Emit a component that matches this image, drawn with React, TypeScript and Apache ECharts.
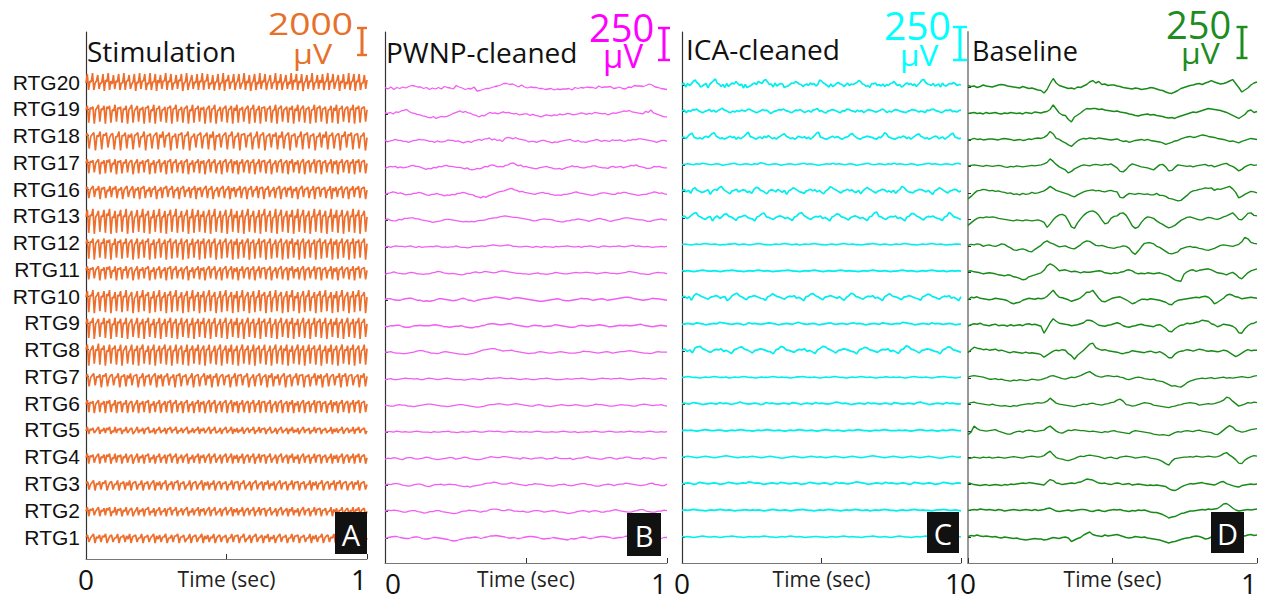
import React, { useEffect, useRef } from "react";
import * as echarts from "echarts";

// ---------------- DATA ----------------
const channels = [
  "RTG20", "RTG19", "RTG18", "RTG17", "RTG16", "RTG13", "RTG12", "RTG11", "RTG10",
  "RTG9", "RTG8", "RTG7", "RTG6", "RTG5", "RTG4", "RTG3", "RTG2", "RTG1",
];
const timeTicks = [0, 0.5, 1];
const timeLabels = [0, 1];
const panelTitles = ["Stimulation", "PWNP-cleaned", "ICA-cleaned", "Baseline"];
const scaleBarValues = ["2000", "250", "250", "250"];
const panelLetters = ["A", "B", "C", "D"];
const channelSpacingUv = [2000, 250, 250, 250];
const levelStepUv = [74.7, 4.72, 4.72, 4.72];

// Each trace: evenly spaced samples over 0..1 s, one character per sample.
// Level = index in LEVELS minus 18 ('0' = -18, 'i' = 0, 'z' = +17); spaces are ignored.
const LEVELS = "0123456789abcdefghijklmnopqrstuvwxyz";

const stimulationTraces = [
  "hqajirahjpbhhq9kirajgpbjiqahhrajjpbgiq9ihrbjjqahgraiiq9khpbjjrajiqahhpbkjq9hiragkpbihqajirajjqbhgpaiiqahhr9kjpbiiqahjqbgirajhp9hjqaigrbjiqahkpbhirajhqahjpbigrakiqajhq9hjpbjirahipbkhqaijrajiqbhkp9jhqbigraijq9jiqahhpbk",
  "hl4jik3hjm5ihl3kil4hgm5jik4ihl3hjm4gil5ihk3jjl4hgm3iil5hhk4jjl3iim5hhk4ijl3hgm4iil5jhk3hjl4iim3ghk5ijl4hil3jgm4ihk5hjl3iim4hhl3jjk5iil4ghm3ijl5hik4jhl3igm5hjl4iik3hhm4jjl5iik3hhl4jgm3iil5hjk4ihm3jil4ijk5h",
  "ik5hjl3ihm4jil6gjk4hhm3iil5jgk4ijl6hhm3iik5hjl4jgm6iil3hhk5jjl4iim3ghk6ijl5hil4jgm3ihk6hjl4iim5hhl3jjk6iil4ghm5ijl3hik6jhl4igm5hjl3iik6hhm4jjl5iik3hhl6jgm4iil5hjk3ihm6jil4ijk5hil3g",
  "hl7jik8hjl6ihk7kil8hgl6jik7ihl8hjk6gil7ihk8jjl6hgk7iil8hhk6jjl7iil8hhk7ijl6hgk8iil7jhk6hjl8iil7ghk6ijl8hil7jgk6ihl8hjk7iil6hhl8jjk7iil6ghk8ijl7hik6jhl8igk7hjl6iik8hhl7jjk6iik8hhl7jgk6iil8hjk7ihl6jil8ijk7h",
  "ik9hjlaihl8jik9hglajil9ihk8hjlagil9ihk8jjl9hgkaiil8hhk9jjlaiil9hhk8ijlahgk9iil8jhkahjl9iil8ghkaijl9hil8jgkaihl9hjk8iilahhl9jjk8iilaghk9ijl8hikajhl9igk8hjlaiik9hhl8jjkaiik9hhl8jgkaiil9hjk8ihlajil9ijk8h",
  "ho1jip0hjn2iho1kip0hgn1jio2ihp0hjn1gio2ihp1jjn0hgo2iip1hhn0jjo2iip1hhn2ijo0hgp1iio2jhn1hjo0iip2ghn1ijo0hip2jgn1iho0hjp2iin1hho0jjp2iin1ghp0ijo2hin1jho0igp2hjo1iin0hhp2jjo1iin0hhp2jgo1iio0hjn2ihp1jio0ijn2h",
  "hl2jim1hjl3ihm2kil1hgm3jil2ihm3hjl1gim2ihl3jjm1hgl2iim3hhl1jjm2iil3hhm1ijl2hgm3iil1jhm2hjl3iim1ghl2ijm3hil1jgm2ihl3hjm1iil2hhm3jjl1iim2ghl3ijm1hil2jhm3igl1hjm2iil3hhl1jjm2iil3hhm1jgl2iim3hjl1ihm2jil3ijm1h",
  "hl8jik9hjl7ihk8kil9hgl7jik8ihl9hjk7gil8ihk9jjl7hgk8iil9hhk7jjl8iil9hhk8ijl7hgk9iil8jhk7hjl9iil8ghk7ijl9hil8jgk7ihl9hjk8iil7hhl9jjk8iil7ghk9ijl8hik7jhl9igk8hjl7iik9hhl8jjk7iik9hhl8jgk7iil9hjk8ihl7jil9ijk8h",
  "hn2jio1hjm3ihn2kio1hgm3jin2iho3hjm1gin2iho3jjm1hgn2iio3hhm1jjn2iio3hhm1ijn2hgo3iim1jhn2hjo3iim1ghn2ijo3him1jgn2iho3hjm1iin2hho3jjm1iin2gho3ijm1hin2jho3igm1hjn2iio3hhm1jjn2iio3hhm1jgn2iio3hjm1ihn2jio3ijm1h",
  "hm3jin2hjm4ihn3kim2hgn4jim3ihn2hjm4gin3ihm2jjn4hgm3iin2hhm4jjn3iim2hhn4ijm3hgn2iim4jhn3hjm2iin4ghm3ijn2him4jgn3ihm2hjn4iim3hhn2jjm4iin3ghm2ijn4him3jhn2igm4hjn3iim2hhn4jjm3iin2hhm4jgn3iim2hjn4ihm3jin2ijm4h",
  "in2hjm4iho3jim2hgn4jjm3ihn2hjm4gin3ihm2jjn4hgm3iin2hhm4jjn3iim2hhn4ijm3hgn2iim4jhn3hjm2iin4ghm3ijn2him4jgn3ihm2hjn4iim3hhn2jjm4iin3ghm2ijn4him3jhn2igm4hjn3iim2hhn4jjm3iin2hhm4jgn3iim2hjn4ihm3jin2ijm4hin3j",
  "ik8hjl9ihk7jil8gjk9hhl7iik8jgl9ijk7hhl8iik9hjl7jgk8iil9hhk7jjl8iik9ghl7ijk8hil9jgk7ihl8hjk9iik7hhl8jjk9iil7ghk8ijl9hik7jhl8igk9hjl7iik8hhl9jjk7iik8hhl9jgk7iil8hjk9ihl7jil8ijk9hik7jhl8i",
  "hl9jik8hjl9ihk8kil9hgl8jik9ihl8hjk9gil8ihk9jjl8hgk9iil8hhk9jjl8iil9hhk8ijl9hgk8iil9jhk8hjl9iil8ghk9ijl8hil9jgk8ihl9hjk8iil9hhl8jjk9iil8ghk9ijl8hik9jhl8igk9hjl8iik9hhl8jjk9iik8hhl9jgk8iil9hjk8ihl9jil8ijk9h",
  "hlejikfhjleihkfkilehglfjikeihlfhjkegilfihkejjlfhgkeiilfhhkejjlfiilehhkfijlehgkfiilejhkfhjleiilfghkeijlfhilejgkfihlehjkfiilehhlfjjkeiilfghkeijlfhikejhlfigkehjlfiikehhlfjjkeiikfhhlejgkfiilehjkfihlejilfijkeh",
  "hlbjikchjlbihkckilbhglcjikbihlchjkbgilcihkbjjlchgkbiilchhkbjjlciilbhhkcijlbhgkciilbjhkchjlbiilcghkbijlchilbjgkcihlbhjkciilbhhlcjjkbiilcghkbijlchikbjhlcigkbhjlciikbhhlcjjkbiikchhlbjgkciilbhjkcihlbjilcijkbh",
  "ikchjlbihkcjilbgjkchhlbiikcjglbijkchhlbiikchjlbjgkciilbhhkcjjlbiikcghlbijkchilbjgkcihlbhjkciikbhhlcjjkbiilcghkbijlchikbjhlcigkbhjlciikbhhlcjjkbiikchhlbjgkciilbhjkcihlbjilcijkbhikcjhlbijkch",
  "hlcjikdhjlcihkdkilchgldjikcihldhjkcgildihkcjjldhgkciildhhkcjjldiilchhkdijlchgkdiilcjhkdhjlciildghkcijldhilcjgkdihlchjkdiilchhldjjkciildghkcijldhikcjhldigkchjldiikchhldjjkciikdhhlcjgkdiilchjkdihlcjildijkch",
  "ikdhjlcihkdjilcgjkdhhlciikdjglcijkdhhlciikdhjlcjgkdiilchhkdjjlciikdghlcijkdhilcjgkdihlchjkdiikchhldjjkciildghkcijldhikcjhldigkchjldiikchhldjjkciikdhhlcjgkdiilchjkdihlcjildijkchikdjhlcijkdh",
];

const pwnpTraces = [
  "jgkfjhkilnmkkhjfigjgljignkifhgkcdfhhjlmorrpqnkokikjjhhfghegfgghejhjikjjhmjkklhikhgkjnmmlnqokjhgf",
  "lkmjnmpqsolkihfecbeacedegjlnpmolkhgdgfjmkljlnlmkjkhijjgigfdfhgfhgjhikjhijlkikjmlkjkhjlkmnpoqnmlkjomrljhfdd",
  "kgijljjhhfhjjlkkjhhfigghkjjhigeghfijljmmokmjkhnpompmlkjghhfhjjhgegfhijklihjggfhijljhjihkjjkihkjlkmmlkjihfhjjh",
  "gikjkhjhijlmkkigegfihkjlmkkjiihfhedegfhkjmnljkjmnqrolnjkihgfhijkihffgegijljkihhjjlljihhgjkijkhjkmlnkjigghkjkihh",
  "hjkmljkighhjjlkigfhhjhgegfhgjjlkihgdcadbegikmnoqstqpmnlkjihjkljjhgfgfhhijlmkjihgfghjkkjihhkjlljihgfghhjkmljkih",
  "jlihhkjmmnnlljihgefghjkkjihgfgfgfhiijlmnnpqrqpoonmlkjhhjklkkjhgffhhjjlkjigijlmkjhgijkmnnmlkjjiggijkljj",
  "ijhjkjjijkihjhiijikjhihiikihhghjjjkjklmlkklmljjiijjihjihjiihjijjkjiijhjjkjihjkjijjkjijkljkjijihiijij",
  "gijljihhjkjhhghhjkmljihihgfgiikljkmlkjkmnmlkjiihhghijhhghikjihhijkjjkkjjhijkjiihijkmlkjhhggijkjjh",
  "jkkihhjklljhhfgfgikkjihghjlkhhfhikklmonmlkjlmmlkjihgffghijkjhgghijlkkjhijkjhijklmnnmkjihijlkkjih",
  "ihjjkkhgghjjkjjjklkjhhghiijhgffhhjkmnnmllmnnlkjihhjkjjhiijlkjihgghjkjijjklkjhhijkjkjjklmkjihijkji",
  "jjkihhgghijlmmkjhhghjkjihgffefghjlnopqqonlmmnlkjihghhjkjihhijkjihhhijlkkjihijkjhijkklmlkjihhghjkjjj",
  "hijhhijkjjijhhjkjihijkjihhhghijihhjkjkklkjjkjihijihhijjkjihhhijiijjkjihhijkjjijjkjihhijjkjjiijkji",
  "jihhjkjjhhghijkllkjihhghijkkjihgffghjkklmlkjklmlkjihhjkjhhghijkjiijkjihhijlkkjihhijkjjihhjklkjijjkih",
  "ijjikjijiijkjiiihjiijjkiihijiijkjiijkkjkjiijkjijijiijkjiiijiijkjiijhiijijkjiijkjiijijkjijiijkjiijij",
  "hjikjhgjkkihijlkihghijkkhijlkihgghjkmlkkmmlkjjhkjihjjkjhiiljiiijgijjlmjjihhjkkihjjlljiihkjjhhjkkj",
  "ikjllkihghjkkigfhjjkijkjjhgfgeghijlmmonlkklnlkjihjjlkkjhhghjjkihhjklljjhggijkjhjkkmlkjihijlmjjhhk",
  "jlklkjhhjkkihfgiikkihgfefhjjlkkihjjmnnmkkmljjijhhjkkjhijkjhhgefgijkjhjkjhhjjlmkjihhjkmmjihhjjlk",
  "hjklljihhjkkigghjjihgfdcdfgiijkjhjkmmnmlkiijhhjkllkjhghhjihgfehghjkjhhjkllkjhijjlmmkjihijkjhhjj",
];

const icaTraces = [
  "jmelhkpsnkegjlcknrulkfjdlfjmkplhkcjdfhkmjpnlrtojkemgjlkdfgjmlpnkjfikhmjlgjsqmkhekfhlnkjfimhkjlnrpkjfhdlkmhjgkfjhlmpkhjegkmjlhkfjnstnkjhlgikemhgjlknkhji",
  "jlgkimlnjhgjkmilhkmplkhgjhkilkjmnkighjmkliehjkmlnkjhgjlkmjgikhlmojkhfjkmljhgkjnmkjhlikgjmlkihjlnkgjhkmljihgjkmlkhjiglkmnkjhgjlkmijhkl",
  "jkhmqskihjgkmjnrtmkhjgikmjlgkhjmqulkigjkhmjnkhjgkmprmkhjgimkjlhkgjnsukjhgikmjlkhgjkmqrmjhgjkmlkjhgkjntqkjhgikjmlhkgjmprmkhjgikmlhjkgjmqskjhi",
  "ijkjikjlkjijkjhijkljijkjikjmljijkjhijkjijkljkjihijkjljkjijkjhijkljijkjikjljkjijkjhijkljkjijkjiklj",
  "jmhkenpkighjlcjmkpsmjgdjkmhjlkgiemqpkjgdjlkhmjgkcjlpnkhgejkmjlhkgdjmrpmkhfjkmjlhgkdjnqmkhfjkmlhjgkejmspkhgfjkmljhkgcjlpnkhfjkmlhj",
  "kmhjnrtmkhfjlcjmhkpqlkhdjkmnjhgckmqskjhfjlmkhjgdkmrtnkhfjlkmhjgckmqpkjhejlmkhjgdkmsulkhfjlkmhjgckmrqmkhejlkmjhgdkmtpkjhf",
  "ijihijijkjijihiijjkiijihijkjiihijijkjiijhijijkjiihijiijkjijiihijjkjiijihijijkjiihijijkjijihiijji",
  "jijihijkjiijihijjkjiihijijkjijihiijjkjiihijijkjihijiijkjijiihijijkjiijihiijkjijihijijkjiijhijiji",
  "jlhkdmqoljhfjkmlhjkcgmprmkhejkmljhgdkmqnkjhfjlkmhjgcklpqmkhejkmljhkgdjmrpkjhfjlkmhjgcknqmkjhejkmljhgdkmpokjhfjlkmhjgck",
  "ijkjilkjhijkjmlkjijkjhiljkjijklkjhijkjikmkjijkjhijkljijkjikljkjhijkjilkjijkjmlkjhijkjiljkjijkjhij",
  "jmhkeoqrmkhfjlkmhjgdkmpqlkhejkmljhgckmrpkjhfjlkmhjgdknrqmkhejkmljhgckmpokjhfjlkmhjgdkmsqlkhejkmljhgckmqpkjhf",
  "ijkjiihijijkjiijhijijkjiihijiijkjijiihijjkjiijihijijkjiihijijkjijihiijjijijihijkjiijihijjkjiihij",
  "jkijlkjhijkjiljkjhjkmkjijkjhiljkjijkjilkjhjkjiljkjijkmljkjhijkjiljkjijkjhlkjijkjilmkjhijkjiljkjij",
  "ijijihijkjiijjihijijkjiihijijkjiijihijijkjiijihijkjiijihijijkjiihijijkjiiijijihijkjiijihijijkjii",
  "ijkjihijkjihijklkjihijijkjihijkjihghijkjihijkjijihijkjihijkjihijklkjihijkjihijkjihijkjihghijkjij",
  "ijkjhilkjijkjhijlkjijkjmljkjhijkjilkjijkjhijlkjijkjhiljkjijkmlkjhijkjiljkjijkjhilkjijkjhijlkjijkj",
  "ijijkjiihijijkjijihiijjijijihijkjiijihijjkjiihijijkjiihijijkjiijhijijkjiihijiijkjijiihijjkjiijih",
  "jijihijkjiijihijjkjiihijijijkjiihijijkjijihiijjiihijiijkjijiihijjkjiijihijkjiihijijkjiijhijijkji",
];

const baselineTraces = [
  "ljkhjmkj ikmnmkji hgjhfgec b6dpzqlj hfgeihkn svqtnolm mkjhgfeg fdefhgec b8658bfh jlmopnqs vsqoprux ph8cgmqs",
  "ijkijhki jkihjikj ijhkjilk jlmqzrjf e61bfjos rssqrpon mnlkjhge dfghfged ca9a8bdf hjlkmoqs rqpomkhe b8cgnpkm",
  "ijljkijk kjiklkjh ijhikjlm lnrzuljf c85bgjlk mlkmlkji jkhfgdfh ijhjhgfe c9bdghkm opnoqsrp onlkjhfg ecfhjlkj",
  "jklkjikj ijkjhgih jihijkjk lnqxsmhe b58dgjlk jlmlkmln jf87cjnl jhgfdbgl mh9aglkj ijhjklmj khjlnoki e9chkmkl",
  "6bhmnpom nlmkjhif gehfgjhi kmqvrnlj hfcaehkm nomnlkmn lk98dhgf hgfgeehd db764238 djmnpqsr snqprtvq j8bfilki",
  "6bgkmlnm nmkjihgf hgfhgfgh fc29hnrs pf30bjqv yzwqh9bk opuvqg50 3cjnmkfb 84136bgj mnljhhkm ljiknpsv pihnuvqp",
  "jlkmlhjk ihjmlhea 9bca76bf jpsomjgh ifdcgkps rnjijhfe dfgihd51 8gnoomhf b73246ce ghffdca9 bdgjkjih jlqzwpnm",
  "kljihfgh gfdcbdc9 86349bdf hmvzwrlm nljkjhji ijklkhgf hgijmnlh fgfhgfgh fdb7310e jmnkmnop nkhgfdgi e85bhlnp",
  "glkmjihg hjihgea8 abfhjihj ijntzrlk igdfhkpv vzrjdcfi klmjgc8a ehhgihgf db76cfgh ijklkmnl g8bfjprp mlijklkj",
  "gjlkmjih jkhiigjh ijhkljki g2cnvqml kjhijlns sqmihgij lnlhfegh jkihgfij gc65bfij mlmopsrq ljfhkjig c32bhlmp",
  "gmrpomnl mnkljhgi hgfhfgfe c7bfjlkm lea3bglr xzqnlmkj ihfeghkj ihgijhgi fb66dhjk mljlnmkj kjijlkgc 8bfjmkll",
  "kmnmlkig ghfgedce dfedegfe fhjmnljh gikjlnqt vrnlkmnm lmkjgfhj kjhgfgdc b8523104 9ceghihi jhijkiji jklkjkmn",
  "kmnlkjih jhgfgfeg fhijkjlm lmpvqlji hgfeghji kljihjkm nrtpihfg ikmlkhgf edcefhik lmlkhijk jkmorxvp kfhjmlnm",
  "bgsnkjij kligeccf higjkjhi jkpsnife hkjlkjji hihgfhgi jhgfedhj ihgfecba ba9cfhgi jihjkihg fcbfkptq kighjlmn",
  "ghjihjij hijihijk jihjklkj kmrvoigf dcegjlkm nmlkigij hgjklkjh ijkjhgfd a63bghij jkjlkjkl kjkmqsnj e76dhkml",
  "kjhgfghf ghgfhgih ijkjlkji hgmrpkjh ijkjlmps rqnkjkih jkjhijgh ihgfgfgf ed9658cf hjijklji hgjmnjhf dcfghihi",
  "ijkjlkjk jikjhijk jijkjiki jkmnkhgh ijhijkkj hgijhgij kjkihgih jijhfeec a73569cd fhhijkjl klmqvwsn jhijkjkl",
  "jlkmkjkj ijhgihgf gedcdefe ecdfhgfh ig9cfhmp snlkjmkl mnljhghj ihigfedc a8689bdf ghjkjhef ijkmlkji jklkmnlm",
];

// ---------------- LAYOUT / STYLE ----------------
const FONT = "Open Sans";
const PANELS = [
  { left: 86, right: 367, top: 32, bottom: 559, firstY: 82, lastY: 537, line: "#EE6F2D", lineWidth: 1.7, text: "#E5712B", axis: "#333", axisWidth: 1.2, minAlign: "center", nameGap: 9 },
  { left: 385, right: 667, top: 32, bottom: 563, firstY: 88, lastY: 538, line: "#F25EF2", lineWidth: 1.3, text: "#FF00FF", axis: "#333", axisWidth: 1.2, minAlign: "left", nameGap: 5 },
  { left: 682, right: 961, top: 32, bottom: 563, firstY: 85, lastY: 537, line: "#00EEEE", lineWidth: 1.7, text: "#00FFFF", axis: "#333", axisWidth: 1.2, minAlign: "center", nameGap: 5 },
  { left: 968, right: 1257, top: 32, bottom: 563, firstY: 87, lastY: 537, line: "#178A17", lineWidth: 1.4, text: "#1E8C1E", axis: "#999", axisWidth: 2, minAlign: "center", nameGap: 5 },
];
const TITLE_POS = [[87, 51, 28], [386, 52, 28], [686, 49, 28], [972, 50, 27]];
const SCALE_NUM = [[268, 23, 31, 1.2], [589, 27, 38, 1.0], [884, 24, 39, 1.0], [1166, 24, 38, 1.0]];
const SCALE_UNIT = [[293, 53, 28, 1.15], [603, 55, 33, 1.0], [900, 54, 30, 1.05], [1181, 53, 29, 1.1]];
const SCALE_BAR = [[362, 28, 55, 5], [664, 28, 60, 6], [960, 27, 60, 7], [1242, 27, 58, 5.5]];
const LETTER_BOX = [[335, 512, 32, 42], [627, 513, 34, 43], [927, 512, 32, 41], [1211, 512, 33, 41]];

function decode(s: string, base: number, step: number): number[][] {
  const chars = Array.from(s).filter((c) => LEVELS.indexOf(c) >= 0);
  const n = chars.length;
  return chars.map((c, k) => [k / (n - 1), base + (LEVELS.indexOf(c) - 18) * step]);
}

function buildOption() {
  const nCh = channels.length;
  const traceSets = [stimulationTraces, pwnpTraces, icaTraces, baselineTraces];
  const grid: any[] = [];
  const xAxis: any[] = [];
  const yAxis: any[] = [];
  const series: any[] = [];
  const graphic: any[] = [];

  PANELS.forEach((L, p) => {
    const S = channelSpacingUv[p];
    const pxPerCh = (L.lastY - L.firstY) / (nCh - 1);
    const uvPerPx = S / pxPerCh;
    const positions = channels.map((_, i) => (nCh - 1 - i) * S);
    grid.push({
      left: L.left, top: L.top, width: L.right - L.left, height: L.bottom - L.top,
      containLabel: false, outerBoundsMode: "none",
    });
    yAxis.push({
      type: "value", gridIndex: p,
      min: -(L.bottom - L.lastY) * uvPerPx,
      max: (nCh - 1) * S + (L.firstY - L.top) * uvPerPx,
      axisLine: { show: true, onZero: false, lineStyle: { color: L.axis, width: L.axisWidth } },
      axisTick: { show: true, inside: true, length: 3, customValues: positions, lineStyle: { color: "#333" } },
      axisLabel: p === 0
        ? {
            show: true, customValues: positions, margin: 6, fontSize: 21, fontFamily: "Liberation Sans", color: "#111",
            formatter: (v: number) => channels[nCh - 1 - Math.round(v / S)],
          }
        : { show: false },
      splitLine: { show: false },
    });
    xAxis.push({
      type: "value", gridIndex: p, min: 0, max: 1,
      axisLine: { show: true, onZero: false, lineStyle: { color: "#777", width: 1 } },
      axisTick: { show: true, inside: true, length: 5, customValues: timeTicks, lineStyle: { color: "#333" } },
      axisLabel: {
        show: true, customValues: timeLabels, margin: 6, fontSize: 28, fontFamily: FONT, color: "#111",
        alignMinLabel: L.minAlign, alignMaxLabel: "right",
      },
      splitLine: { show: false },
      name: "Time (sec)", nameLocation: "middle", nameGap: L.nameGap, nameMoveOverlap: false,
      nameTextStyle: { fontSize: 21, fontFamily: FONT, color: "#222", verticalAlign: "top" },
    });
    traceSets[p].forEach((str, i) => {
      series.push({
        type: "line", xAxisIndex: p, yAxisIndex: p, symbol: "none", silent: true,
        data: decode(str, (nCh - 1 - i) * S, levelStepUv[p]),
        lineStyle: { width: L.lineWidth, color: L.line },
        emphasis: { disabled: true }, z: 2,
      });
    });

    const [tx, ty, tfs] = TITLE_POS[p];
    graphic.push({ type: "text", x: tx, y: ty, z: 50, style: { text: panelTitles[p], fontSize: tfs, fontFamily: FONT, fill: "#111", align: "left", verticalAlign: "middle" } });
    const [nx, ny, nfs, nsx] = SCALE_NUM[p];
    graphic.push({ type: "text", x: nx, y: ny, scaleX: nsx, z: 50, style: { text: scaleBarValues[p], fontSize: nfs, fontFamily: FONT, fill: L.text, align: "left", verticalAlign: "middle" } });
    const [ux, uy, ufs, usx] = SCALE_UNIT[p];
    graphic.push({ type: "text", x: ux, y: uy, scaleX: usx, z: 50, style: { text: "μV", fontSize: ufs, fontFamily: FONT, fill: L.text, align: "left", verticalAlign: "middle" } });
    const [bx, by0, by1, bw] = SCALE_BAR[p];
    const barStyle = { stroke: L.text, lineWidth: 3 };
    graphic.push({ type: "line", z: 50, shape: { x1: bx, y1: by0, x2: bx, y2: by1 }, style: barStyle });
    graphic.push({ type: "line", z: 50, shape: { x1: bx - bw, y1: by0, x2: bx + bw, y2: by0 }, style: { stroke: L.text, lineWidth: 2.4 } });
    graphic.push({ type: "line", z: 50, shape: { x1: bx - bw, y1: by1, x2: bx + bw, y2: by1 }, style: { stroke: L.text, lineWidth: 2.4 } });
    const [rx, ry, rw, rh] = LETTER_BOX[p];
    graphic.push({ type: "rect", z: 60, shape: { x: rx, y: ry, width: rw, height: rh }, style: { fill: "#111" } });
    graphic.push({ type: "text", z: 61, x: rx + rw / 2, y: ry + rh / 2 + 1, style: { text: panelLetters[p], fontSize: 29, fontFamily: FONT, fill: "#fff", align: "center", verticalAlign: "middle" } });
  });

  return { animation: false, grid, xAxis, yAxis, series, graphic };
}

export default function App() {
  const ref = useRef<HTMLDivElement>(null);
  useEffect(() => {
    document.body.style.margin = "0";
    if (!ref.current) return;
    const chart = echarts.init(ref.current, undefined, { renderer: "svg" });
    chart.setOption(buildOption() as any);
    return () => chart.dispose();
  }, []);
  return <div ref={ref} style={{ width: 1270, height: 597, background: "#fff" }} />;
}
